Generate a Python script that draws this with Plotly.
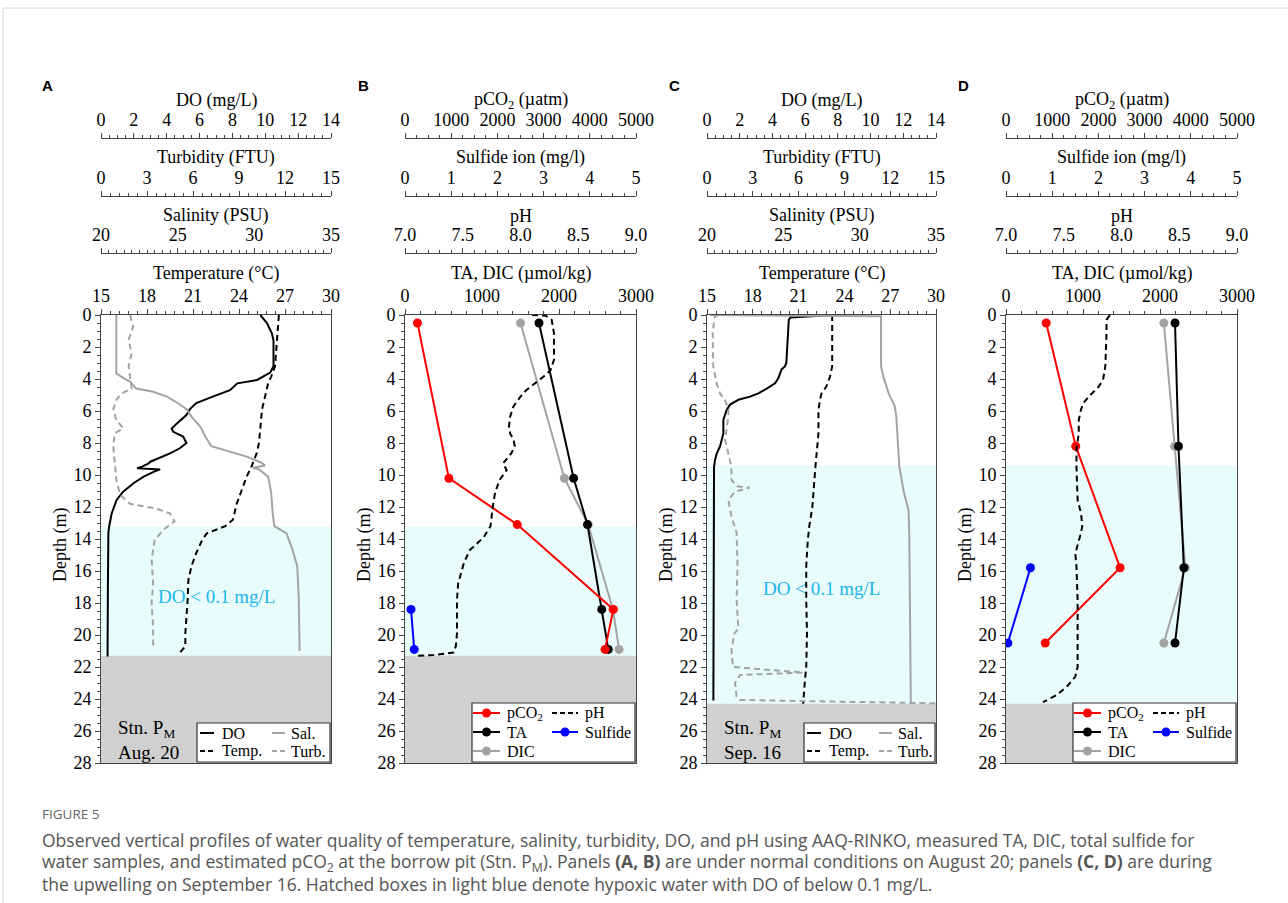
import plotly.graph_objects as go

W, H = 1288, 903


def PX(x):
    return x / W


def PY(y):
    return 1 - y / H


# ---------------- DATA ----------------
# Panel A (Aug. 20) CTD profiles
a_do_depth = [0, 0.5, 1.15, 1.6, 2.4, 3.2, 3.6, 4.06, 4.27, 4.7, 5.1, 5.5, 5.9, 6.25, 6.8, 7.1, 7.3, 7.6,
              8.0, 8.33, 8.65, 8.85, 9.17, 9.27, 9.48, 9.58, 9.65, 9.8, 10.1, 10.5, 11.04, 11.56, 12.4,
              13.2, 13.6, 17.0, 21.35]
a_do = [9.7, 10.1, 10.4, 10.5, 10.5, 10.5, 10.3, 9.5, 8.3, 7.85, 6.8, 5.8, 5.4, 5.2, 4.6, 4.3, 4.4, 5.0,
        5.2, 4.8, 4.2, 3.7, 3.0, 2.9, 2.5, 2.2, 3.6, 3.2, 2.6, 2.0, 1.35, 0.95, 0.65, 0.5, 0.45, 0.42, 0.4]
a_temp_depth = [0, 1.15, 3.2, 3.85, 4.27, 5.1, 5.9, 7.0, 8.0, 8.65, 9.5, 10.1, 10.9, 11.8, 12.4, 12.8,
                13.2, 13.65, 14.06, 14.9, 15.7, 16.56, 17.8, 19.9, 20.7, 21.1]
a_temp = [26.6, 26.5, 26.35, 26.1, 25.9, 25.7, 25.5, 25.4, 25.3, 25.15, 24.8, 24.5, 24.2, 23.85, 23.7,
          23.6, 23.1, 21.9, 21.6, 21.2, 20.9, 20.7, 20.65, 20.5, 20.5, 20.15]
a_sal_depth = [0, 3.65, 3.96, 4.17, 4.6, 4.8, 5.1, 5.5, 5.9, 6.35, 7.0, 7.6, 8.2, 8.5, 8.85, 9.2, 9.4,
               9.55, 9.65, 10.1, 11.1, 12.4, 13.2, 13.65, 14.7, 15.7, 17.8, 21.0]
a_sal = [21.0, 21.0, 21.5, 21.9, 22.3, 23.4, 24.3, 25.0, 25.6, 25.9, 26.5, 26.8, 27.2, 28.2, 29.5, 30.4,
         30.7, 29.9, 30.3, 30.9, 31.1, 31.2, 31.3, 32.1, 32.5, 32.8, 32.9, 32.95]
a_turb_depth = [0, 0.73, 1.56, 2.4, 3.2, 4.06, 4.6, 4.9, 5.3, 5.9, 6.56, 7.08, 7.4, 8.2, 9.06, 10.3,
                11.25, 11.8, 12.1, 12.4, 12.9, 13.4, 14.06, 15.3, 16.8, 18.0, 19.5, 20.9]
a_turb = [1.9, 2.1, 1.8, 2.0, 1.8, 1.9, 2.0, 1.35, 1.0, 0.8, 1.0, 1.45, 0.9, 0.8, 0.9, 1.0, 1.25, 1.9,
          3.6, 4.5, 4.8, 4.1, 3.5, 3.3, 3.4, 3.3, 3.4, 3.4]

# Panel B (Aug. 20) water samples
b_depth = [0.5, 10.2, 13.1, 18.4, 20.9]
b_pco2 = [270, 950, 2430, 4510, 4330]
b_ta = [1740, 2190, 2370, 2555, 2640]
b_dic = [1500, 2070, 2380, 2700, 2780]
b_sulf_depth = [18.4, 20.9]
b_sulf = [0.13, 0.2]
b_ph_depth = [0, 0.05, 0.3, 1.15, 2.8, 3.45, 3.85, 4.27, 4.7, 5.1, 5.7, 6.35, 7.0, 7.4, 7.8, 8.2, 8.65,
              9.27, 9.7, 10.3, 11.1, 12.0, 12.8, 13.2, 13.9, 14.7, 15.5, 16.8, 17.8, 19.9, 20.7, 21.1,
              21.25, 21.3]
b_ph = [8.1, 8.22, 8.27, 8.29, 8.29, 8.26, 8.2, 8.13, 8.05, 8.0, 7.94, 7.91, 7.9, 7.91, 7.94, 7.95, 7.92,
        7.85, 7.88, 7.82, 7.78, 7.76, 7.75, 7.74, 7.68, 7.56, 7.51, 7.46, 7.45, 7.45, 7.44, 7.42, 7.25,
        7.09]

# Panel C (Sep. 16) CTD profiles
c_do_depth = [0, 0.15, 0.3, 1.0, 2.0, 3.0, 3.2, 3.4, 3.95, 4.27, 4.6, 4.9, 5.1, 5.3, 5.6, 5.94, 6.25,
              6.56, 7.4, 7.8, 8.2, 8.65, 9.06, 9.5, 15.0, 24.1]
c_do = [7.7, 5.1, 5.0, 4.95, 4.9, 4.85, 4.77, 4.56, 4.36, 4.16, 3.65, 3.14, 2.63, 1.92, 1.41, 1.2, 1.1,
        1.0, 1.0, 0.9, 0.8, 0.6, 0.49, 0.43, 0.4, 0.39]
c_temp_depth = [0, 1, 3.2, 3.85, 4.5, 4.9, 5.3, 5.94, 7.4, 9.5, 11.1, 12.0, 13.2, 14.1, 15.7, 17.8,
                19.9, 22.0, 23.0, 24.3]
c_temp = [23.2, 23.2, 23.2, 23.06, 22.8, 22.5, 22.4, 22.3, 22.3, 22.1, 22.0, 21.9, 21.7, 21.6, 21.5,
          21.5, 21.55, 21.5, 21.4, 21.3]
c_sal_depth = [0, 0.08, 3.2, 3.85, 4.9, 5.7, 6.35, 7.8, 9.5, 11.1, 11.8, 12.2, 13.65, 17.8, 24.3]
c_sal = [20.2, 31.4, 31.4, 31.55, 31.9, 32.3, 32.4, 32.5, 32.6, 32.9, 33.1, 33.2, 33.25, 33.3, 33.35]
c_turb_depth = [0, 0.1, 1.15, 3.2, 4.27, 4.9, 5.3, 5.9, 6.35, 7.0, 7.8, 8.65, 9.5, 10.3, 10.7, 10.8,
                11.04, 11.56, 12.6, 13.6, 14.7, 15.7, 17.8, 19.6, 19.9, 20.9, 22.0, 22.35, 22.5, 23.0,
                23.85, 24.06, 24.27]
c_turb = [0.75, 0.5, 0.37, 0.41, 0.63, 0.85, 1.18, 1.4, 1.4, 1.29, 1.18, 1.4, 1.6, 1.6, 1.94, 2.8, 1.83,
          1.4, 1.6, 1.94, 1.98, 2.0, 1.94, 2.05, 1.8, 1.6, 1.7, 6.3, 2.16, 1.83, 1.94, 2.16, 15.0]

# Panel D (Sep. 16) water samples
d_depth = [0.5, 8.2, 15.8, 20.5]
d_pco2 = [870, 1510, 2470, 850]
d_ta = [2195, 2240, 2310, 2195]
d_dic = [2050, 2190, 2330, 2050]
d_sulf_depth = [15.8, 20.5]
d_sulf = [0.53, 0.04]
d_ph_depth = [0, 0.1, 0.3, 1.15, 3.2, 4.06, 4.5, 5.0, 5.5, 5.9, 6.56, 7.4, 8.4, 9.5, 11.56, 12.4, 13.2,
              13.6, 14.3, 14.9, 15.7, 17.8, 19.9, 22.0, 22.6, 23.2, 23.75, 24.2]
d_ph = [7.9, 7.89, 7.87, 7.87, 7.86, 7.84, 7.8, 7.73, 7.67, 7.65, 7.63, 7.63, 7.61, 7.61, 7.62, 7.65,
        7.66, 7.65, 7.62, 7.6, 7.61, 7.62, 7.62, 7.62, 7.6, 7.53, 7.44, 7.32]

# hypoxic layer (DO < 0.1 mg/L) and bottom depth per date
hyp_aug = [13.2, 21.3]
hyp_sep = [9.4, 24.3]
depth_ticks = list(range(0, 29, 2))

# ---------------- STYLE ----------------
FONT = "Liberation Serif"
AXC = "#444444"
CYAN = "#E8FCFC"
GREYBG = "#D0D0D0"
GREY = "#A3A3A3"
TXTBLUE = "#23B5EC"
DASH = "6px,4px"
FS = 18

# panel pixel geometry
PANELS = {
    "A": (101, 331), "B": (405, 636), "C": (707, 936), "D": (1006, 1237)
}
LETTER_X = {"A": 47, "B": 363, "C": 674, "D": 963}
TOP, BOT = 315, 763
AX_POS = [138, 196, 253]  # extra top axes (pixels)

fig = go.Figure()
layout = dict(width=W, height=H, margin=dict(l=0, r=0, t=0, b=0), template="none",
              paper_bgcolor="white", plot_bgcolor="rgba(0,0,0,0)", showlegend=False,
              font=dict(family=FONT, size=FS, color="black"))
annotations = []
shapes = []


def ann(text, x, y, size=FS, family=FONT, color="black", xanchor="center", yanchor="middle", **kw):
    d = dict(text=text, x=PX(x), y=PY(y), xref="paper", yref="paper", showarrow=False,
             xanchor=xanchor, yanchor=yanchor, font=dict(family=family, size=size, color=color))
    d.update(kw)
    annotations.append(d)


def base_axis(rng, dtick, mdtick, fmt=None):
    d = dict(range=rng, showline=True, linecolor=AXC, linewidth=1, ticks="outside", ticklen=5,
             tickwidth=1, tickcolor=AXC, dtick=dtick, tick0=rng[0],
             minor=dict(dtick=mdtick, tick0=rng[0], ticks="outside", ticklen=3, tickcolor=AXC,
                        tickwidth=1, showgrid=False),
             showgrid=False, zeroline=False, automargin=False, fixedrange=True,
             tickfont=dict(family=FONT, size=FS, color="black"))
    if fmt:
        d["tickformat"] = fmt
    return d


def add_panel(idx, key, main_ax, extra_axes, hyp):
    x0, x1 = PANELS[key]
    xn = "xaxis" if idx == 1 else f"xaxis{idx}"
    yn = "yaxis" if idx == 1 else f"yaxis{idx}"
    xid = "x" if idx == 1 else f"x{idx}"
    yid = "y" if idx == 1 else f"y{idx}"
    rng, dt, mdt, fmt, title = main_ax
    ax = base_axis(rng, dt, mdt, fmt)
    ax.update(domain=[PX(x0), PX(x1)], anchor=yid, side="top", mirror=True)
    layout[xn] = ax
    yax = base_axis([28, 0], 2, 0.5)
    yax.update(domain=[PY(BOT), PY(TOP)], anchor=xid, mirror=True, tickvals=depth_ticks, tick0=0)
    yax["minor"]["tick0"] = 0
    layout[yn] = yax
    cx = (x0 + x1) / 2
    ann(title, cx, 273)
    ids = {}
    for j, (eidx, (erng, edt, emdt, efmt, etitle)) in enumerate(extra_axes):
        ea = base_axis(erng, edt, emdt, efmt)
        ea.update(anchor="free", position=PY(AX_POS[j]), overlaying=xid, side="top")
        layout[f"xaxis{eidx}"] = ea
        ty = [100, 157, 215][j]
        if etitle == "pH":
            ty = 216
        ann(etitle, cx, ty)
        ids[j] = f"x{eidx}"
    # hypoxic and seabed shading
    shapes.append(dict(type="rect", xref=f"{xid} domain", yref=yid, x0=0, x1=1, y0=hyp[0], y1=hyp[1],
                       fillcolor=CYAN, line=dict(width=0), layer="below"))
    shapes.append(dict(type="rect", xref=f"{xid} domain", yref=yid, x0=0, x1=1, y0=hyp[1], y1=28,
                       fillcolor=GREYBG, line=dict(width=0), layer="below"))
    # Depth title + panel letter
    ann("Depth (m)", x0 - 41, (TOP + BOT) / 2 + 6, textangle=-90)
    ann(f"<b>{key}</b>", LETTER_X[key], 85, size=15, family="Liberation Sans")
    return xid, yid, ids


def line(x, y, xa, ya, color, dash=None, width=2):
    fig.add_trace(go.Scatter(x=x, y=y, xaxis=xa, yaxis=ya, mode="lines",
                             line=dict(color=color, width=width, dash=dash)))


def pts(x, y, xa, ya, color):
    fig.add_trace(go.Scatter(x=x, y=y, xaxis=xa, yaxis=ya, mode="lines+markers",
                             line=dict(color=color, width=2), marker=dict(color=color, size=9)))


CTD_AXES = [
    ([0, 14], 2, 0.5, None, "DO (mg/L)"),
    ([0, 15], 3, 0.6, None, "Turbidity (FTU)"),
    ([20, 35], 5, 0.5, None, "Salinity (PSU)"),
]
TEMP_AX = ([15, 30], 3, 0.6, None, "Temperature (°C)")
CHEM_AXES = [
    ([0, 5000], 1000, 250, None, "pCO<sub>2</sub> (µatm)"),
    ([0, 5], 1, 0.25, None, "Sulfide ion (mg/l)"),
    ([7, 9], 0.5, 0.1, ".1f", "pH"),
]
TADIC_AX = ([0, 3000], 1000, 200, None, "TA, DIC (µmol/kg)")

# Panel A
xa, ya, ex = add_panel(1, "A", TEMP_AX, [(5, CTD_AXES[0]), (6, CTD_AXES[1]), (7, CTD_AXES[2])], hyp_aug)
line(a_sal, a_sal_depth, ex[2], ya, GREY)
line(a_turb, a_turb_depth, ex[1], ya, GREY, DASH)
line(a_temp, a_temp_depth, xa, ya, "black", DASH)
line(a_do, a_do_depth, ex[0], ya, "black")

# Panel B
xb, yb, exb = add_panel(2, "B", TADIC_AX, [(8, CHEM_AXES[0]), (9, CHEM_AXES[1]), (10, CHEM_AXES[2])], hyp_aug)
line(b_ph, b_ph_depth, exb[2], yb, "black", DASH)
pts(b_pco2, b_depth, exb[0], yb, "red")
pts(b_dic, b_depth, xb, yb, GREY)
pts(b_ta, b_depth, xb, yb, "black")
pts(b_sulf, b_sulf_depth, exb[1], yb, "blue")

# Panel C
xc, yc, exc = add_panel(3, "C", TEMP_AX, [(11, CTD_AXES[0]), (12, CTD_AXES[1]), (13, CTD_AXES[2])], hyp_sep)
line(c_sal, c_sal_depth, exc[2], yc, GREY)
line(c_turb, c_turb_depth, exc[1], yc, GREY, DASH)
line(c_temp, c_temp_depth, xc, yc, "black", DASH)
line(c_do, c_do_depth, exc[0], yc, "black")

# Panel D
xd, yd, exd = add_panel(4, "D", TADIC_AX, [(14, CHEM_AXES[0]), (15, CHEM_AXES[1]), (16, CHEM_AXES[2])], hyp_sep)
line(d_ph, d_ph_depth, exd[2], yd, "black", DASH)
pts(d_pco2, d_depth, exd[0], yd, "red")
pts(d_dic, d_depth, xd, yd, GREY)
pts(d_ta, d_depth, xd, yd, "black")
pts(d_sulf, d_sulf_depth, exd[1], yd, "blue")

# In-plot texts
for xr, yr, ypos in [(xa, ya, 17.6), (xc, yc, 17.1)]:
    annotations.append(dict(text="DO < 0.1 mg/L", x=0.5, y=ypos, xref=f"{xr} domain", yref=yr,
                            xanchor="center", yanchor="middle",
                            showarrow=False, font=dict(family=FONT, size=19, color=TXTBLUE)))
for (x0, _), date in [(PANELS["A"], "Aug. 20"), (PANELS["C"], "Sep. 16")]:
    ann(f"Stn. P<sub>M</sub><br>{date}", x0 + 15, 740, size=19, xanchor="left", align="left")


# ---------------- manual legends ----------------
def lg_box(x0, y0, x1, y1):
    shapes.append(dict(type="rect", xref="paper", yref="paper", x0=PX(x0), x1=PX(x1), y0=PY(y1),
                       y1=PY(y0), fillcolor="white", line=dict(color="#333333", width=1.2), layer="above"))


def lg_item(x0, x1, y, color, text, tx, dash=None, marker=False):
    shapes.append(dict(type="line", xref="paper", yref="paper", x0=PX(x0), x1=PX(x1), y0=PY(y), y1=PY(y),
                       line=dict(color=color, width=2, dash=dash), layer="above"))
    if marker:
        mx = (x0 + x1) / 2
        r = 4.5
        shapes.append(dict(type="circle", xref="paper", yref="paper", x0=PX(mx - r), x1=PX(mx + r),
                           y0=PY(y + r), y1=PY(y - r), fillcolor=color, line=dict(color=color, width=0),
                           layer="above"))
    ann(text, tx, y, size=16, xanchor="left")


# A and C legends
for base, right in [(197, 330), (804, 935)]:
    lg_box(base, 723, right, 762)
    lg_item(base + 3, base + 17, 733, "black", "DO", base + 23)
    lg_item(base + 3, base + 17, 751, "black", "Temp.", base + 23, dash="5px,3px")
    lg_item(base + 75, base + 88, 733, GREY, "Sal.", base + 92)
    lg_item(base + 75, base + 88, 751, GREY, "Turb.", base + 92, dash="5px,3px")

# B and D legends
for base, right in [(472, 635), (1073, 1236)]:
    lg_box(base, 703, right, 762)
    lg_item(base + 1, base + 28, 713, "red", "pCO<sub>2</sub>", base + 33, marker=True)
    lg_item(base + 1, base + 28, 732, "black", "TA", base + 33, marker=True)
    lg_item(base + 1, base + 28, 751, GREY, "DIC", base + 33, marker=True)
    lg_item(base + 80, base + 106, 713, "black", "pH", base + 111, dash="5px,3px")
    lg_item(base + 80, base + 106, 732, "blue", "Sulfide", base + 111, marker=True)

# ---------------- page frame and caption ----------------
shapes.append(dict(type="line", xref="paper", yref="paper", x0=PX(3), x1=1, y0=PY(8), y1=PY(8),
                   line=dict(color="#D8D8D8", width=1)))
shapes.append(dict(type="line", xref="paper", yref="paper", x0=PX(3), x1=PX(3), y0=0, y1=PY(8),
                   line=dict(color="#D8D8D8", width=1)))

CAP_FONT = "Open Sans"
CAP_COLOR = "#555555"
caption_lines = [
    "Observed vertical profiles of water quality of temperature, salinity, turbidity, DO, and pH using "
    "AAQ-RINKO, measured TA, DIC, total sulfide for",
    "water samples, and estimated pCO<sub>2</sub> at the borrow pit (Stn. P<sub>M</sub>). Panels "
    "<b>(A, B)</b> are under normal conditions on August 20; panels <b>(C, D)</b> are during",
    "the upwelling on September 16. Hatched boxes in light blue denote hypoxic water with DO of below 0.1 mg/L.",
]
ann("FIGURE 5", 40, 814, size=13.5, family=CAP_FONT, color="#666666", xanchor="left")
for i, t in enumerate(caption_lines):
    ann(t, 40, 840 + 22 * i, size=17.5, family=CAP_FONT, color=CAP_COLOR, xanchor="left")

layout["annotations"] = annotations
layout["shapes"] = shapes
fig.update_layout(**layout)
fig.write_html("out.html")
